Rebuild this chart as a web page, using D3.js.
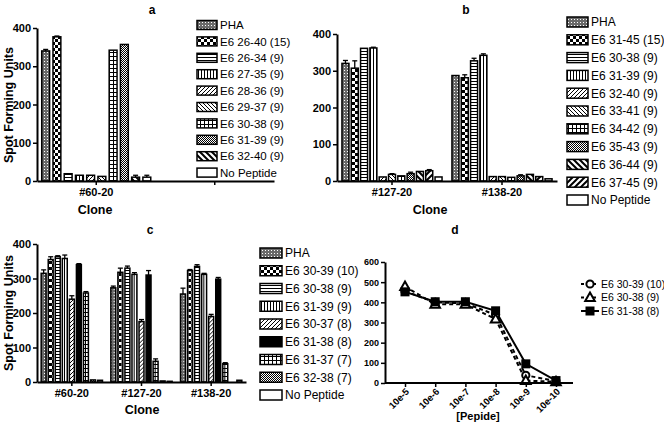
<!DOCTYPE html>
<html><head><meta charset="utf-8">
<script src="https://cdn.jsdelivr.net/npm/d3@7"></script>
<style>
body{margin:0;background:#fff;}
svg{font-family:"Liberation Sans",Arial,sans-serif;}
</style></head>
<body><svg id="c" width="664" height="426"></svg>
<script>
// ---------- DATA ----------
const yTicks400 = [0, 100, 200, 300, 400];
const yTicks600 = [0, 100, 200, 300, 400, 500, 600];

// Panel a
const aSeries = ["PHA","E6 26-40 (15)","E6 26-34 (9)","E6 27-35 (9)","E6 28-36 (9)","E6 29-37 (9)","E6 30-38 (9)","E6 31-39 (9)","E6 32-40 (9)","No Peptide"];
const aClones = ["#60-20", ""];
const aValues = [[340, 377, 19, 15, 15, 12, 342, 357, 10, 10], []];
const aErrors = [[4, 2, 0, 0, 0, 0, 0, 0, 5, 5], []];

// Panel b
const bSeries = ["PHA","E6 31-45 (15)","E6 30-38 (9)","E6 31-39 (9)","E6 32-40 (9)","E6 33-41 (9)","E6 34-42 (9)","E6 35-43 (9)","E6 36-44 (9)","E6 37-45 (9)","No Peptide"];
const bClones = ["#127-20", "#138-20"];
const bValues = [[320, 307, 361, 362, 11, 18, 14, 20, 26, 28, 11],
                 [287, 281, 327, 342, 12, 12, 10, 14, 18, 12, 6]];
const bErrors = [[8, 20, 0, 2, 0, 2, 0, 4, 0, 3, 0],
                 [0, 8, 7, 4, 0, 0, 0, 3, 0, 0, 0]];

// Panel c
const cSeries = ["PHA","E6 30-39 (10)","E6 30-38 (9)","E6 31-39 (9)","E6 30-37 (8)","E6 31-38 (8)","E6 31-37 (7)","E6 32-38 (7)","No Peptide"];
const cClones = ["#60-20", "#127-20", "#138-20"];
const cValues = [[315, 355, 363, 358, 240, 340, 258, 6, 5],
                 [273, 318, 330, 312, 175, 310, 60, 3, 2],
                 [255, 323, 335, 312, 190, 298, 53, 0, 5]];
const cErrors = [[10, 8, 3, 10, 10, 3, 4, 0, 0],
                 [5, 12, 6, 5, 6, 13, 7, 0, 0],
                 [17, 3, 5, 3, 6, 5, 3, 0, 0]];

// Panel d
const dConc = ["10e-5","10e-6","10e-7","10e-8","10e-9","10e-10"];
const dSeries = ["E6 30-39 (10)","E6 30-38 (9)","E6 31-38 (8)"];
const d3039 = [455, 400, 395, 338, 38, 10];
const d3038 = [478, 390, 390, 317, 12, 6];
const d3138 = [452, 403, 403, 358, 95, 12];

// ---------- STYLE ----------
const svg = d3.select("#c");
const defs = svg.append("defs");
function pat(id, w, h, draw){
  const p = defs.append("pattern").attr("id", id).attr("patternUnits","userSpaceOnUse").attr("width", w).attr("height", h);
  p.append("rect").attr("width", w).attr("height", h).attr("fill", "#fff");
  draw(p);
}
pat("pha", 3, 3, p => { p.append("rect").attr("width",3).attr("height",3).attr("fill","#6a6a6a"); p.append("rect").attr("x",1).attr("y",1).attr("width",1).attr("height",1).attr("fill","#fff"); });
pat("checker", 6, 6, p => { p.append("rect").attr("width",6).attr("height",6).attr("fill","#000"); p.append("rect").attr("x",0).attr("y",0).attr("width",3).attr("height",3).attr("fill","#fff"); p.append("rect").attr("x",3).attr("y",3).attr("width",3).attr("height",3).attr("fill","#fff"); });
pat("hlines", 4, 3, p => p.append("rect").attr("width",4).attr("height",1).attr("fill","#000"));
pat("vlines", 3, 4, p => p.append("rect").attr("width",1).attr("height",4).attr("fill","#000"));
pat("diagF", 4, 4, p => p.append("path").attr("d","M-1,1 L1,-1 M0,4 L4,0 M3,5 L5,3").attr("stroke","#000").attr("stroke-width",1));
pat("diagB", 4, 4, p => p.append("path").attr("d","M-1,3 L1,5 M0,0 L4,4 M3,-1 L5,1").attr("stroke","#000").attr("stroke-width",1));
pat("grid", 4, 4, p => { p.append("rect").attr("width",4).attr("height",1).attr("fill","#000"); p.append("rect").attr("width",1).attr("height",4).attr("fill","#000"); });
pat("dense", 2, 2, p => { p.append("rect").attr("width",1).attr("height",1).attr("fill","#000"); p.append("rect").attr("x",1).attr("y",1).attr("width",1).attr("height",1).attr("fill","#000"); });
pat("thickB", 6, 6, p => p.append("path").attr("d","M-1.5,4.5 L1.5,7.5 M0,0 L6,6 M4.5,-1.5 L7.5,1.5").attr("stroke","#000").attr("stroke-width",2));
pat("thickF", 6, 6, p => p.append("path").attr("d","M-1.5,1.5 L1.5,-1.5 M0,6 L6,0 M4.5,7.5 L7.5,4.5").attr("stroke","#000").attr("stroke-width",2));

const aFill = ["pha","checker","hlines","vlines","diagF","diagB","grid","dense","thickB","white"];
const bFill = ["pha","checker","hlines","vlines","diagF","diagB","grid","dense","thickB","thickF","white"];
const cFill = ["pha","checker","hlines","vlines","diagF","black","grid","dense","white"];
function fillOf(k){ return k === "white" ? "#fff" : (k === "black" ? "#000" : "url(#" + k + ")"); }

const tickFont = "11px", boldW = "bold";

function yAxis(x, y){
  const g = svg.append("g").attr("transform", `translate(${x},0)`)
    .call(d3.axisLeft(y).tickValues(y.domain()[1] === 600 ? yTicks600 : yTicks400).tickSize(4).tickPadding(2).tickSizeOuter(0));
  g.select(".domain").attr("stroke-width", 2);
  g.selectAll(".tick line").attr("stroke-width", 1.5);
  g.selectAll("text").attr("font-size", y.domain()[1] === 600 ? "9px" : tickFont).attr("font-weight", boldW).attr("font-family", "Liberation Sans, Arial");
  return g;
}

function barPanel(o){
  const y = d3.scaleLinear().domain([0, 400]).range([o.y0, o.y1]);
  const x0 = d3.scaleBand().domain(o.clones).range([o.xL, o.xR]);
  const bw = x0.bandwidth();
  const x1 = d3.scaleBand().domain(o.series).range([o.gIn * bw, (1 - o.gIn) * bw]).paddingInner(o.pad);
  o.clones.forEach((cl, ci) => {
    const vals = o.values[ci];
    const g = svg.append("g").attr("transform", `translate(${x0(cl)},0)`);
    vals.forEach((v, si) => {
      const s = o.series[si];
      const e = o.errors[ci][si];
      const cx = x1(s) + x1.bandwidth() / 2;
      if (e > 0) {
        g.append("line").attr("x1", cx).attr("x2", cx).attr("y1", y(v)).attr("y2", y(v + e)).attr("stroke", "#000").attr("stroke-width", 1.3);
        g.append("line").attr("x1", cx - 2.5).attr("x2", cx + 2.5).attr("y1", y(v + e)).attr("y2", y(v + e)).attr("stroke", "#000").attr("stroke-width", 1.3);
      }
      g.append("rect").attr("x", x1(s)).attr("width", x1.bandwidth())
        .attr("y", y(v)).attr("height", Math.max(0, y(0) - y(v)))
        .attr("fill", fillOf(o.fills[si])).attr("stroke", "#000").attr("stroke-width", 1.5);
    });
  });
  yAxis(o.xL, y);
  const gx = svg.append("g").attr("transform", `translate(0,${o.y0})`)
    .call(d3.axisBottom(x0).tickSize(4).tickSizeOuter(0).tickPadding(3));
  gx.select(".domain").attr("stroke-width", 2);
  gx.selectAll(".tick line").attr("stroke-width", 1.5);
  gx.selectAll("text").attr("font-size", tickFont).attr("font-weight", boldW);
  // legend
  o.series.forEach((s, i) => {
    const ly = o.legY + i * o.legDy;
    svg.append("rect").attr("x", o.legX).attr("y", ly - o.boxH / 2).attr("width", o.boxW).attr("height", o.boxH)
      .attr("fill", fillOf(o.fills[i])).attr("stroke", "#000").attr("stroke-width", 1.5);
    svg.append("text").attr("x", o.legX + o.boxW + 3).attr("y", ly).attr("dy", "0.36em")
      .attr("font-size", o.legFont).text(s);
  });
  svg.append("text").attr("x", o.titleX).attr("y", o.titleY).attr("text-anchor", "middle").attr("font-size", "12px").attr("font-weight", "bold").text(o.title);
  svg.append("text").attr("x", o.cloneX).attr("y", o.cloneY).attr("text-anchor", "middle").attr("font-size", "12.5px").attr("font-weight", "bold").text("Clone");
  if (o.yTitle) {
    svg.append("text").attr("transform", `translate(${o.yTitleX},${o.yTitleY}) rotate(-90)`).attr("text-anchor", "middle")
      .attr("font-size", "12.5px").attr("font-weight", "bold").text("Spot Forming Units");
  }
}

barPanel({series: aSeries, clones: aClones, values: aValues, errors: aErrors, fills: aFill,
  y0: 181, y1: 28, xL: 37, xR: 274, gIn: 0.04, pad: 0.3,
  legX: 197, legY: 25, legDy: 16.4, boxW: 20, boxH: 9, legFont: "11.5px",
  title: "a", titleX: 152, titleY: 14, cloneX: 95, cloneY: 214, yTitle: true, yTitleX: 13, yTitleY: 105});

barPanel({series: bSeries, clones: bClones, values: bValues, errors: bErrors, fills: bFill,
  y0: 181, y1: 34, xL: 337, xR: 557, gIn: 0.045, pad: 0.25,
  legX: 567, legY: 22, legDy: 17.8, boxW: 21, boxH: 10, legFont: "12px",
  title: "b", titleX: 466, titleY: 14, cloneX: 430, cloneY: 214, yTitle: false});

barPanel({series: cSeries, clones: cClones, values: cValues, errors: cErrors, fills: cFill,
  y0: 382, y1: 244, xL: 37, xR: 246, gIn: 0.06, pad: 0.3,
  legX: 260, legY: 253, legDy: 17.75, boxW: 22, boxH: 10, legFont: "12px",
  title: "c", titleX: 150, titleY: 234, cloneX: 142, cloneY: 414, yTitle: true, yTitleX: 13, yTitleY: 313});

// ---------- Panel d ----------
(function(){
  const y = d3.scaleLinear().domain([0, 600]).range([383, 262]);
  const x = d3.scalePoint().domain(dConc).range([405, 556]);
  const series = [d3039, d3038, d3138];
  const dash = ["4,3", "4,3", null];
  const line = d3.line().x((d, i) => x(dConc[i])).y(d => y(d));
  series.forEach((s, k) => {
    svg.append("path").attr("d", line(s)).attr("fill", "none").attr("stroke", "#000")
      .attr("stroke-width", 2).attr("stroke-dasharray", dash[k]);
  });
  function marker(g, k, cx, cy){
    if (k === 0) g.append("circle").attr("cx", cx).attr("cy", cy).attr("r", 3.6).attr("fill", "#fff").attr("stroke", "#000").attr("stroke-width", 2);
    else if (k === 1) g.append("path").attr("d", `M${cx},${cy-5} L${cx+4.8},${cy+3.5} L${cx-4.8},${cy+3.5} Z`).attr("fill", "#fff").attr("stroke", "#000").attr("stroke-width", 2);
    else g.append("rect").attr("x", cx - 4.5).attr("y", cy - 4.5).attr("width", 9).attr("height", 9).attr("fill", "#000");
  }
  series.forEach((s, k) => s.forEach((v, i) => marker(svg, k, x(dConc[i]), y(v))));
  yAxis(385, y);
  const gx = svg.append("g").attr("transform", "translate(0,383)")
    .call(d3.axisBottom(x).tickSize(4).tickSizeOuter(0));
  gx.select(".domain").attr("d", "M385,0H573").attr("stroke-width", 2);
  gx.selectAll(".tick line").attr("stroke-width", 1.5);
  gx.selectAll("text").attr("font-size", "9.5px").attr("font-weight", "bold")
    .attr("text-anchor", "end").attr("x", 0).attr("y", 0).attr("dy", "0.35em")
    .attr("transform", "translate(2,7) rotate(-45)");
  svg.append("text").attr("x", 455).attr("y", 234).attr("text-anchor", "middle").attr("font-size", "12px").attr("font-weight", "bold").text("d");
  svg.append("text").attr("x", 478).attr("y", 420).attr("text-anchor", "middle").attr("font-size", "11px").attr("font-weight", "bold").text("[Pepide]");
  dSeries.forEach((nm, k) => {
    const ly = 284 + k * 13.5;
    svg.append("line").attr("x1", 581).attr("x2", 599).attr("y1", ly).attr("y2", ly).attr("stroke", "#000").attr("stroke-width", 2).attr("stroke-dasharray", dash[k] ? "3,3" : null);
    marker(svg, k, 590, ly);
    svg.append("text").attr("x", 601).attr("y", ly).attr("dy", "0.36em").attr("font-size", "10.5px").text(nm);
  });
})();
</script></body></html>
